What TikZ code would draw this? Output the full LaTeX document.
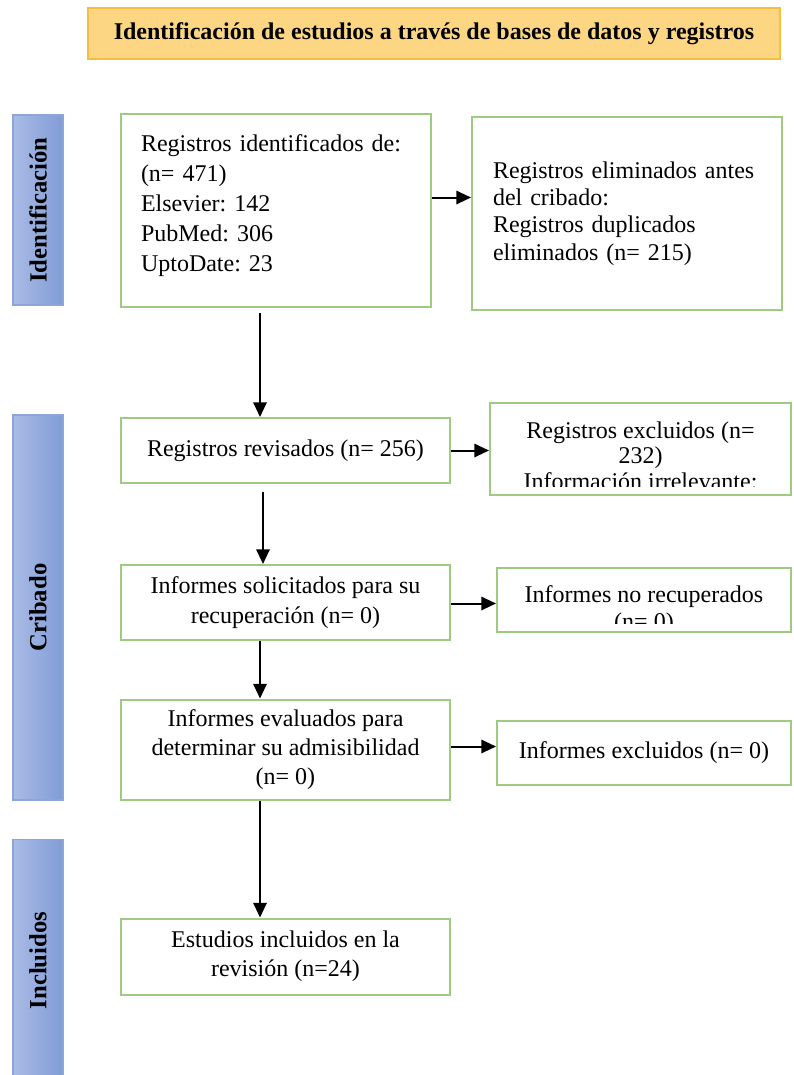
\documentclass[tikz,border=0pt]{standalone}
\usepackage{fontspec}
\setmainfont{Liberation Serif}
\usetikzlibrary{arrows.meta,backgrounds}
\frenchspacing

\definecolor{boxgreen}{RGB}{157,203,127}
\definecolor{titlefill}{RGB}{252,214,130}
\definecolor{titleline}{RGB}{245,190,60}
\definecolor{barleft}{RGB}{170,187,230}
\definecolor{barright}{RGB}{128,156,214}
\definecolor{barline}{RGB}{140,166,218}

\tikzset{
	box/.style={draw=boxgreen, line width=1.5pt, fill=white, align=center, font=\fontsize{18}{22}\selectfont},
	boxtext/.style={align=center, font=\fontsize{18}{22}\selectfont},
	bar/.style={draw=barline, line width=1pt, left color=barleft, right color=barright, minimum width=37.5pt},
	bartext/.style={rotate=90, font=\fontsize{18.5}{20}\selectfont\bfseries},
	arr/.style={line width=1.5pt, -{Triangle[length=11pt,width=10pt]}}
}

\begin{document}
\begin{tikzpicture}[x=0.75pt,y=-0.75pt]
	\useasboundingbox (0,0) rectangle (793,1075);

	\node[draw=titleline, line width=1pt, fill=titlefill, minimum width=519pt, minimum height=38.25pt,
		font=\fontsize{18}{20}\selectfont\bfseries] (title) at (434,33.5)
		{Identificación de estudios a través de bases de datos y registros};

	\node[bar, minimum height=142.5pt] (barident) at (38,210) {};
	\node[bartext] at (barident) {Identificación};
	\node[bar, minimum height=288.75pt] (barcrib) at (38,607.5) {};
	\node[bartext] at (barcrib) {Cribado};
	\node[bar, minimum height=182pt] (barincl) at (38,960.5) {};
	\node[bartext] at (barincl) {Incluidos};

	\node[box, minimum width=232.5pt, minimum height=144.75pt] (ident) at (276,210.5) {};
	\node[align=left, text width=202.5pt, font=\fontsize{18}{22.5}\selectfont] (identtext) at ([yshift=4pt]ident.center)
		{Registros identificados de:\\(n= 471)\\Elsevier: 142\\PubMed: 306\\UptoDate: 23};
	\node[box, align=left, text width=201pt, inner xsep=15.75pt, minimum height=144.75pt,
		font=\fontsize{18}{20.5}\selectfont] (elim) at (627,213.5)
		{Registros eliminados antes\\del cribado:\\Registros duplicados\\eliminados (n= 215)};

	\node[box, minimum width=246.75pt, minimum height=48.75pt] (rev) at (285.5,450.5) {Registros revisados (n= 256)};
	\node[box, minimum width=225.75pt, minimum height=69pt] (excl) at (640.5,449) {};
	\begin{scope}
		\clip (excl.north west) rectangle ([yshift=7.5pt]excl.south east);
		\node[boxtext, anchor=north, font=\fontsize{18}{19}\selectfont] (excltext) at ([yshift=-11.25pt]excl.north)
			{Registros excluidos (n=\\232)\\Información irrelevante:};
	\end{scope}

	\node[box, minimum width=246.75pt, minimum height=56.25pt] (sol) at (285.5,602.5)
		{Informes solicitados para su\\recuperación (n= 0)};
	\node[box, minimum width=220.5pt, minimum height=48pt] (norec) at (644,600) {};
	\begin{scope}
		\clip (norec.north west) rectangle ([yshift=7.5pt]norec.south east);
		\node[boxtext, anchor=north, font=\fontsize{18}{20.5}\selectfont] (norectext) at ([yshift=-10.5pt]norec.north)
			{Informes no recuperados\\(n= 0)};
	\end{scope}

	\node[box, minimum width=246.75pt, minimum height=75pt, font=\fontsize{18}{21.5}\selectfont] (eval) at (285.5,749.5)
		{Informes evaluados para\\determinar su admisibilidad\\(n= 0)};
	\node[box, minimum width=220.5pt, minimum height=48pt] (infexc) at (644,753) {Informes excluidos (n= 0)};

	\node[box, minimum width=246.75pt, minimum height=57pt] (incl) at (285.5,956.5)
		{Estudios incluidos en la\\revisión (n=24)};

	% flechas
	\coordinate (axis) at (260,0);
	\draw[arr] ([yshift=9.75pt]ident.east) -- ([yshift=9.75pt]ident.east -| elim.west);
	\draw[arr] (ident.south -| axis) ++(0,5) -- (rev.north -| axis);
	\draw[arr] (rev.east) -- (rev.east -| excl.west);
	\draw[arr] ([xshift=2.25pt]rev.south -| axis) ++(0,8) -- ([xshift=2.25pt]sol.north -| axis);
	\draw[arr] ([yshift=-0.75pt]sol.east) -- ([yshift=-0.75pt]sol.east -| norec.west);
	\draw[arr] (sol.south -| axis) -- (eval.north -| axis);
	\draw[arr] ([yshift=2.25pt]eval.east) -- ([yshift=2.25pt]eval.east -| infexc.west);
	\draw[arr] (eval.south -| axis) -- (incl.north -| axis);
\end{tikzpicture}
\end{document}
